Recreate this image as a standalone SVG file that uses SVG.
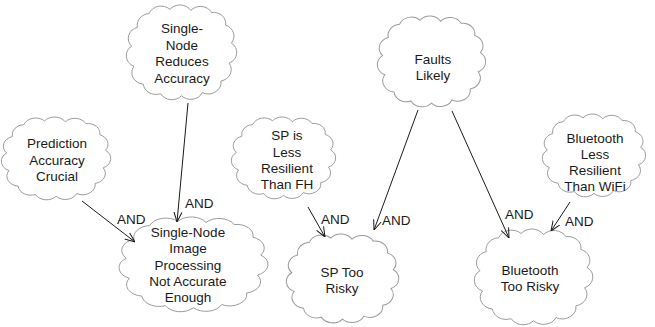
<svg xmlns="http://www.w3.org/2000/svg" xmlns:xlink="http://www.w3.org/1999/xlink" width="655" height="327" viewBox="0 0 655 327">
<style>
.cloud{fill:#ffffff;stroke:#9b9b9b;stroke-width:1;vector-effect:non-scaling-stroke}
text{font-family:"Liberation Sans",Arial,sans-serif;font-size:13.5px;fill:#1a1a1a}
.c{text-anchor:middle}
.edge{stroke:#1a1a1a;stroke-width:1;fill:none}
</style>
<defs>
<symbol id="cloud" viewBox="0 0 100 100" preserveAspectRatio="none">
<path class="cloud" d="M12,26 A11,11 0 0 1 22,13 A11,11 0 0 1 40,9 A11,11 0 0 1 58,10 A11,11 0 0 1 76,12 A10.5,10.5 0 0 1 88,24 A11,11 0 0 1 93,41 A11,11 0 0 1 91,60 A11,11 0 0 1 84,77 A11,11 0 0 1 68,88 A11,11 0 0 1 50,91 A11,11 0 0 1 32,89 A11,11 0 0 1 17,80 A11,11 0 0 1 9,63 A11,11 0 0 1 7,44 A11,11 0 0 1 12,26 Z"/>
</symbol>
<marker id="arr" viewBox="0 0 10 10" markerWidth="10" markerHeight="10" refX="10" refY="5" orient="auto" markerUnits="userSpaceOnUse">
<path d="M0,1 L10,5 L0,9" fill="none" stroke="#1a1a1a" stroke-width="1"/>
</marker>
</defs>

<g id="node-single-node-reduces-accuracy">
<use xlink:href="#cloud" href="#cloud" x="123.5" y="-0.1" width="116" height="105.3"/>
<text class="c" x="182" y="33">Single-</text>
<text class="c" x="182" y="49.5">Node</text>
<text class="c" x="182" y="66">Reduces</text>
<text class="c" x="182" y="82.5">Accuracy</text>
</g>

<g id="node-prediction-accuracy-crucial">
<use xlink:href="#cloud" href="#cloud" x="-1.4" y="112.6" width="114.9" height="92"/>
<text class="c" x="57" y="148">Prediction</text>
<text class="c" x="57" y="164.5">Accuracy</text>
<text class="c" x="57" y="181">Crucial</text>
</g>

<g id="node-single-node-image-processing">
<use xlink:href="#cloud" href="#cloud" x="115.3" y="211.9" width="156.4" height="105.3"/>
<text class="c" x="188" y="237">Single-Node</text>
<text class="c" x="188" y="253.3">Image</text>
<text class="c" x="188" y="269.5">Processing</text>
<text class="c" x="188" y="285.8">Not Accurate</text>
<text class="c" x="188" y="302">Enough</text>
</g>

<g id="node-sp-less-resilient">
<use xlink:href="#cloud" href="#cloud" x="228.7" y="112.6" width="109.6" height="90.9"/>
<text class="c" x="287" y="140">SP is</text>
<text class="c" x="287" y="156.5">Less</text>
<text class="c" x="287" y="172.5">Resilient</text>
<text class="c" x="287" y="189">Than FH</text>
</g>

<g id="node-sp-too-risky">
<use xlink:href="#cloud" href="#cloud" x="283.5" y="229.3" width="118.1" height="98.7"/>
<text class="c" x="342" y="277">SP Too</text>
<text class="c" x="342" y="292.5">Risky</text>
</g>

<g id="node-faults-likely">
<use xlink:href="#cloud" href="#cloud" x="374.6" y="11.2" width="113.8" height="100.9"/>
<text class="c" x="433" y="63.5">Faults</text>
<text class="c" x="433" y="80">Likely</text>
</g>

<g id="node-bluetooth-less-resilient">
<use xlink:href="#cloud" href="#cloud" x="539.7" y="109.6" width="108.5" height="92"/>
<text class="c" x="595" y="143">Bluetooth</text>
<text class="c" x="595" y="159">Less</text>
<text class="c" x="595" y="175">Resilient</text>
<text class="c" x="595" y="191">Than WiFi</text>
</g>

<g id="node-bluetooth-too-risky">
<use xlink:href="#cloud" href="#cloud" x="471.3" y="223.9" width="124.5" height="106.4"/>
<text class="c" x="530" y="275">Bluetooth</text>
<text class="c" x="530" y="291">Too Risky</text>
</g>

<g id="connectors">
<line class="edge" x1="188" y1="103" x2="177" y2="222" marker-end="url(#arr)"/>
<line class="edge" x1="82" y1="201" x2="135" y2="242" marker-end="url(#arr)"/>
<line class="edge" x1="308" y1="207" x2="325" y2="237" marker-end="url(#arr)"/>
<line class="edge" x1="418" y1="110" x2="374" y2="230" marker-end="url(#arr)"/>
<line class="edge" x1="452" y1="111" x2="509" y2="238" marker-end="url(#arr)"/>
<line class="edge" x1="570" y1="202" x2="551" y2="231" marker-end="url(#arr)"/>
<text x="185" y="208">AND</text>
<text x="117" y="224">AND</text>
<text x="321" y="224">AND</text>
<text x="382" y="225">AND</text>
<text x="505" y="219">AND</text>
<text x="565" y="226">AND</text>
</g>
</svg>
